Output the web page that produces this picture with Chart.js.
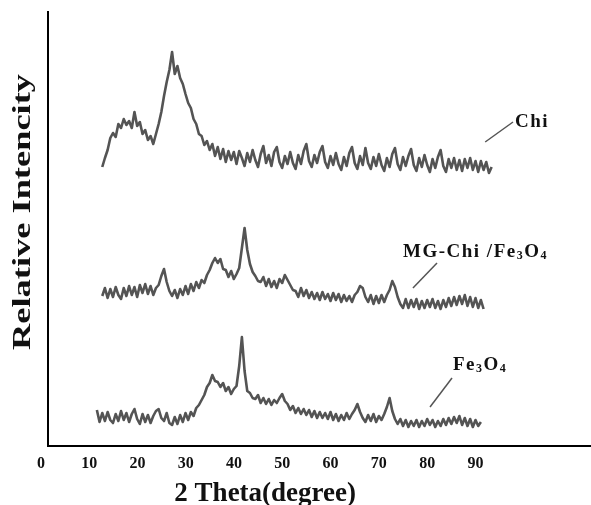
<!DOCTYPE html>
<html>
<head>
<meta charset="utf-8">
<script src="https://cdn.jsdelivr.net/npm/chart.js@4.4.0/dist/chart.umd.min.js"></script>
<style>
  html, body { margin: 0; padding: 0; background: #fff; }
  #xrd { display: block; }
</style>
</head>
<body>
<canvas id="xrd" width="591" height="505"></canvas>
<script>
// 2 theta grid of each scan: first angle, same step for all
let angleStep = 0.5
let chiStart = 9.5
let mgChiStart = 9.5
let fe3o4Start = 8.5

// intensities (a.u., patterns stacked)
let chiValues = [
    279, 288, 296, 308, 313, 309, 322, 318, 327, 321,
    325, 318, 334, 320, 324, 312, 316, 306, 310, 302,
    312, 322, 334, 350, 364, 376, 394, 372, 380, 368,
    362, 352, 343, 338, 327, 322, 312, 310, 301, 305,
    296, 302, 290, 299, 287, 297, 284, 295, 286, 294,
    282, 295, 288, 280, 293, 284, 296, 286, 279, 292,
    300, 283, 291, 280, 294, 299, 284, 278, 290, 282,
    294, 283, 277, 291, 282, 295, 302, 285, 279, 291,
    283, 294, 300, 284, 278, 290, 281, 293, 282, 276,
    289, 280, 293, 299, 283, 277, 290, 281, 298, 283,
    277, 289, 280, 292, 281, 275, 288, 279, 292, 298,
    282, 276, 289, 280, 290, 297, 281, 275, 288, 279,
    291, 281, 274, 287, 278, 289, 296, 280, 274, 287,
    278, 288, 276, 286, 275, 287, 278, 288, 276, 285,
    274, 285, 276, 284, 273, 279
]

let mgChiValues = [
    150, 158, 148, 157, 149, 159, 151, 147, 158, 150,
    160, 151, 159, 149, 161, 153, 162, 152, 160, 151,
    158, 161, 170, 177, 164, 155, 150, 156, 148, 157,
    151, 160, 152, 162, 155, 164, 158, 166, 163, 171,
    176, 183, 188, 183, 187, 177, 176, 169, 175, 167,
    172, 178, 198, 218, 196, 182, 174, 170, 165, 164,
    169, 160, 167, 159, 165, 158, 167, 163, 171, 166,
    161, 156, 155, 149, 158, 150, 156, 148, 154, 147,
    153, 146, 154, 147, 152, 145, 153, 146, 152, 144,
    151, 145, 150, 144, 151, 154, 160, 158, 149, 144,
    151, 142, 150, 143, 151, 144, 151, 156, 165, 159,
    149, 142, 138, 147, 138, 146, 139, 147, 137, 145,
    138, 146, 139, 147, 138, 145, 137, 146, 139, 148,
    140, 149, 141, 150, 142, 151, 140, 149, 139, 148,
    138, 146, 137
]

let fe3o4Values = [
    36, 24, 33, 25, 34, 26, 23, 32, 25, 35,
    26, 33, 24, 32, 37, 27, 22, 32, 24, 31,
    23, 30, 35, 37, 28, 25, 33, 23, 21, 29,
    22, 31, 24, 33, 26, 34, 30, 38, 41, 46,
    51, 59, 63, 71, 65, 64, 59, 63, 55, 59,
    52, 57, 60, 80, 109, 75, 55, 53, 48, 47,
    51, 43, 48, 42, 47, 41, 46, 43, 48, 52,
    45, 42, 36, 40, 33, 38, 32, 37, 31, 36,
    29, 35, 28, 34, 28, 33, 27, 34, 26, 32,
    25, 31, 26, 33, 27, 32, 36, 42, 34, 28,
    24, 31, 25, 32, 24, 30, 26, 32, 39, 48,
    35, 27, 22, 27, 20, 26, 19, 25, 20, 26,
    19, 25, 20, 27, 21, 26, 19, 25, 20, 27,
    21, 28, 22, 29, 23, 30, 21, 28, 20, 27,
    19, 26, 20, 24
]

let tickValues = [0, 10, 20, 30, 40, 50, 60, 70, 80, 90]
let tickLabels = ['0', '10', '20', '30', '40', '50', '60', '70', '80', '90']

let xTitle = '2 Theta(degree)'
let yTitle = 'Relative Intencity'

// text pieces: [text, subscript]
let chiLabel = [['Chi', false]]
let mgChiLabel = [['MG-Chi /Fe', false], ['3', true], ['O', false], ['4', true]]
let fe3o4Label = [['Fe', false], ['3', true], ['O', false], ['4', true]]

function toPoints(start, values) {
    return values.map((v, i) => ({ x: start + i * angleStep, y: v }))
}

let lineColor = '#545454'
let serif = '"Liberation Serif", "DejaVu Serif", serif'

// where each name sits, in data units (2 theta, intensity)
let seriesNotes = [
    { parts: chiLabel, at: [86.35, 319], from: [80.8, 304], to: [85.98, 324] },
    { parts: mgChiLabel, at: [65.5, 189], from: [67.35, 158], to: [71.83, 183] },
    { parts: fe3o4Label, at: [74.8, 76], from: [70.53, 39], to: [74.62, 68] }
]

const xrdText = {
    id: 'xrdText',
    afterDraw(chart) {
        const ctx = chart.ctx
        const xs = chart.scales.x
        const ys = chart.scales.y
        const xt = chart.scales.xt
        const area = chart.chartArea
        ctx.save()
        ctx.fillStyle = '#111'

        // y title, stretched along its length like the original
        ctx.save()
        ctx.translate(area.left - 25, (area.top + area.bottom) / 2 - 17)
        ctx.rotate(-Math.PI / 2)
        ctx.scale(1.4, 1)
        ctx.font = 'bold 26px ' + serif
        ctx.textAlign = 'center'
        ctx.textBaseline = 'middle'
        ctx.fillText(yTitle, 0, 0)
        ctx.restore()

        // x title, centred under the tick labels
        ctx.font = 'bold 27px ' + serif
        ctx.textAlign = 'center'
        ctx.textBaseline = 'alphabetic'
        let mid = (tickValues[0] + tickValues[tickValues.length - 1]) / 2
        ctx.fillText(xTitle, xt.getPixelForValue(mid), 501)

        // names of the patterns with their leader lines
        ctx.strokeStyle = lineColor
        ctx.lineWidth = 1.5
        ctx.textAlign = 'left'
        ctx.letterSpacing = '1.5px'
        seriesNotes.forEach(note => {
            ctx.beginPath()
            ctx.moveTo(xs.getPixelForValue(note.from[0]), ys.getPixelForValue(note.from[1]))
            ctx.lineTo(xs.getPixelForValue(note.to[0]), ys.getPixelForValue(note.to[1]))
            ctx.stroke()
            let px = xs.getPixelForValue(note.at[0])
            let py = ys.getPixelForValue(note.at[1])
            note.parts.forEach(p => {
                ctx.font = p[1] ? 'bold 12px ' + serif : 'bold 19px ' + serif
                ctx.fillText(p[0], px, p[1] ? py + 2 : py)
                px += ctx.measureText(p[0]).width
            })
        })
        ctx.restore()
    }
}

const canvas = document.getElementById('xrd')

let dataset = (values, start) => ({
    data: toPoints(start, values),
    borderColor: lineColor,
    borderWidth: 2.6,
    pointRadius: 0,
    tension: 0,
    fill: false,
    borderJoinStyle: 'round'
})

var grafico = new Chart(canvas, {
    type: 'line',
    data: {
        datasets: [
            dataset(chiValues, chiStart),
            dataset(mgChiValues, mgChiStart),
            dataset(fe3o4Values, fe3o4Start)
        ]
    },
    options: {
        responsive: false,
        devicePixelRatio: 1,
        animation: false,
        layout: { padding: { top: 12, left: 0, right: 0, bottom: 0 } },
        plugins: {
            legend: { display: false },
            tooltip: { enabled: false }
        },
        scales: {
            x: {
                type: 'linear',
                axis: 'x',
                min: -0.6,
                max: 100.5,
                display: false
            },
            xt: {
                type: 'linear',
                axis: 'x',
                position: 'bottom',
                min: 0,
                max: 112.5,
                grid: { display: false, drawTicks: false },
                border: { display: true, color: '#000', width: 2 },
                afterBuildTicks: (scale) => {
                    scale.ticks = tickValues.map(v => ({ value: v }))
                },
                afterFit: (scale) => { scale.height = 59 },
                ticks: {
                    autoSkip: false,
                    maxRotation: 0,
                    padding: 8,
                    labelOffset: -7,
                    color: '#111',
                    font: { family: serif, size: 16, weight: 'bold' },
                    callback: (value) => tickLabels[tickValues.indexOf(value)]
                }
            },
            y: {
                type: 'linear',
                min: 0,
                max: 434,
                grid: { display: false, drawTicks: false },
                border: { display: true, color: '#000', width: 2 },
                ticks: { display: false },
                afterFit: (scale) => { scale.width = 48 }
            }
        }
    },
    plugins: [xrdText]
})
</script>
</body>
</html>
